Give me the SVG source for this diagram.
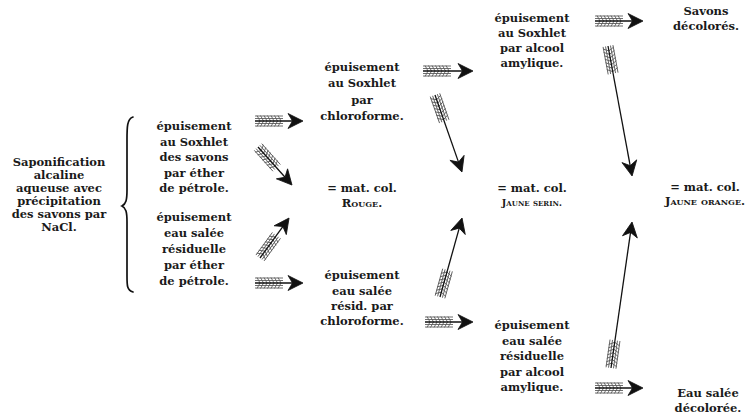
<svg xmlns="http://www.w3.org/2000/svg" xmlns:xlink="http://www.w3.org/1999/xlink" width="749" height="419" viewBox="0 0 749 419">
<style>
  .t { font-family: "DejaVu Serif", "Liberation Serif", serif; font-weight: bold; font-size: 11.5px; text-anchor: middle; fill: #1a1a1a; }
  .sc { font-variant: small-caps; }
  .sm { font-size: 9.5px; }
  .shaft { stroke: #111; stroke-width: 1.3; fill: none; }
  .fl { stroke: #5e5e5e; stroke-width: 0.9; fill: none; }
  .brace { stroke: #111; stroke-width: 1.7; fill: none; stroke-linecap: round; }
</style>
<defs>
  <g id="fletch">
    <path class="fl" d="M0,-5 L28,-5 M0,-2.5 L28,-2.5 M0,2.5 L28,2.5 M0,5 L28,5"/>
    <path class="fl" d="M2,-5.5 L5,0 L2,5.5 M5.5,-5.5 L8.5,0 L5.5,5.5 M9,-5.5 L12,0 L9,5.5 M12.5,-5.5 L15.5,0 L12.5,5.5 M16,-5.5 L19,0 L16,5.5 M19.5,-5.5 L22.5,0 L19.5,5.5 M23,-5.5 L26,0 L23,5.5"/>
  </g>
  <path id="head" d="M0,0 L-15,-7.5 L-10.5,0 L-15,7.5 Z" fill="#111" stroke="#111" stroke-width="0.8" stroke-linejoin="round"/>
</defs>
<rect width="749" height="419" fill="#ffffff"/>

<g id="connectors">
  <path class="brace" d="M133,117 C127,119 127,127 127,140 L127,190 C127,200 126,204 122,206 C126,208 127,212 127,222 L127,276 C127,286 127,290 133,292"/>
  <g id="a1" transform="translate(255,121)"><use xlink:href="#fletch"/><line class="shaft" x1="0" y1="0" x2="44" y2="0"/><use xlink:href="#head" transform="translate(48,0)"/></g>
  <g id="a2" transform="translate(258,147) rotate(48.2)"><use xlink:href="#fletch"/><line class="shaft" x1="0" y1="0" x2="47" y2="0"/><use xlink:href="#head" transform="translate(51,0)"/></g>
  <g id="a3" transform="translate(260,258) rotate(-54)"><use xlink:href="#fletch"/><line class="shaft" x1="0" y1="0" x2="45" y2="0"/><use xlink:href="#head" transform="translate(49.4,0)"/></g>
  <g id="a4" transform="translate(255,283)"><use xlink:href="#fletch"/><line class="shaft" x1="0" y1="0" x2="44" y2="0"/><use xlink:href="#head" transform="translate(48,0)"/></g>
  <g id="a5" transform="translate(423,71)"><use xlink:href="#fletch"/><line class="shaft" x1="0" y1="0" x2="46" y2="0"/><use xlink:href="#head" transform="translate(50,0)"/></g>
  <g id="a6" transform="translate(435,95) rotate(70.7)"><use xlink:href="#fletch"/><line class="shaft" x1="0" y1="0" x2="78" y2="0"/><use xlink:href="#head" transform="translate(81.6,0)"/></g>
  <g id="a7" transform="translate(440,297) rotate(-74.4)"><use xlink:href="#fletch"/><line class="shaft" x1="0" y1="0" x2="78" y2="0"/><use xlink:href="#head" transform="translate(82,0)"/></g>
  <g id="a8" transform="translate(425,322)"><use xlink:href="#fletch"/><line class="shaft" x1="0" y1="0" x2="44" y2="0"/><use xlink:href="#head" transform="translate(48,0)"/></g>
  <g id="a9" transform="translate(595,21)"><use xlink:href="#fletch"/><line class="shaft" x1="0" y1="0" x2="44" y2="0"/><use xlink:href="#head" transform="translate(48,0)"/></g>
  <g id="a10" transform="translate(608,46) rotate(79.5)"><use xlink:href="#fletch"/><line class="shaft" x1="0" y1="0" x2="128" y2="0"/><use xlink:href="#head" transform="translate(132.2,0)"/></g>
  <g id="a11" transform="translate(611,368) rotate(-81.8)"><use xlink:href="#fletch"/><line class="shaft" x1="0" y1="0" x2="143" y2="0"/><use xlink:href="#head" transform="translate(147.5,0)"/></g>
  <g id="a12" transform="translate(595,388)"><use xlink:href="#fletch"/><line class="shaft" x1="0" y1="0" x2="44" y2="0"/><use xlink:href="#head" transform="translate(48,0)"/></g>
</g>

<g id="saponification">
  <text class="t" x="59" y="166">Saponification</text>
  <text class="t" x="59" y="179">alcaline</text>
  <text class="t" x="59" y="192">aqueuse avec</text>
  <text class="t" x="59" y="205">précipitation</text>
  <text class="t" x="59" y="218">des savons par</text>
  <text class="t" x="59" y="231">NaCl.</text>
</g>

<g id="ether-soxhlet">
  <text class="t" x="194" y="130">épuisement</text>
  <text class="t" x="194" y="145.5">au Soxhlet</text>
  <text class="t" x="194" y="161">des savons</text>
  <text class="t" x="194" y="176.5">par éther</text>
  <text class="t" x="194" y="192">de pétrole.</text>
</g>

<g id="ether-eau">
  <text class="t" x="194" y="221">épuisement</text>
  <text class="t" x="194" y="237">eau salée</text>
  <text class="t" x="194" y="253">résiduelle</text>
  <text class="t" x="194" y="269">par éther</text>
  <text class="t" x="194" y="285">de pétrole.</text>
</g>

<g id="chloro-soxhlet">
  <text class="t" x="362" y="71">épuisement</text>
  <text class="t" x="362" y="87">au Soxhlet</text>
  <text class="t" x="362" y="103.5">par</text>
  <text class="t" x="362" y="120">chloroforme.</text>
</g>

<g id="rouge">
  <text class="t" x="362" y="192">= mat. col.</text>
  <text class="t sc" x="362" y="207">Rouge.</text>
</g>

<g id="chloro-eau">
  <text class="t" x="362" y="279">épuisement</text>
  <text class="t" x="362" y="295">eau salée</text>
  <text class="t" x="362" y="310">résid. par</text>
  <text class="t" x="362" y="325">chloroforme.</text>
</g>

<g id="amyl-soxhlet">
  <text class="t" x="532" y="22">épuisement</text>
  <text class="t" x="532" y="37">au Soxhlet</text>
  <text class="t" x="532" y="52">par alcool</text>
  <text class="t" x="532" y="67">amylique.</text>
</g>

<g id="jaune-serin">
  <text class="t" x="532" y="192">= mat. col.</text>
  <text class="t sc sm" x="532" y="206">Jaune serin.</text>
</g>

<g id="amyl-eau">
  <text class="t" x="532" y="329">épuisement</text>
  <text class="t" x="532" y="344.5">eau salée</text>
  <text class="t" x="532" y="360">résiduelle</text>
  <text class="t" x="532" y="375.5">par alcool</text>
  <text class="t" x="532" y="391">amylique.</text>
</g>

<g id="savons">
  <text class="t" x="706" y="15">Savons</text>
  <text class="t" x="706" y="30">décolorés.</text>
</g>

<g id="jaune-orange">
  <text class="t" x="705" y="191">= mat. col.</text>
  <text class="t sc" x="705" y="205">Jaune orange.</text>
</g>

<g id="eau-salee">
  <text class="t" x="708" y="397">Eau salée</text>
  <text class="t" x="708" y="412">décolorée.</text>
</g>
</svg>
